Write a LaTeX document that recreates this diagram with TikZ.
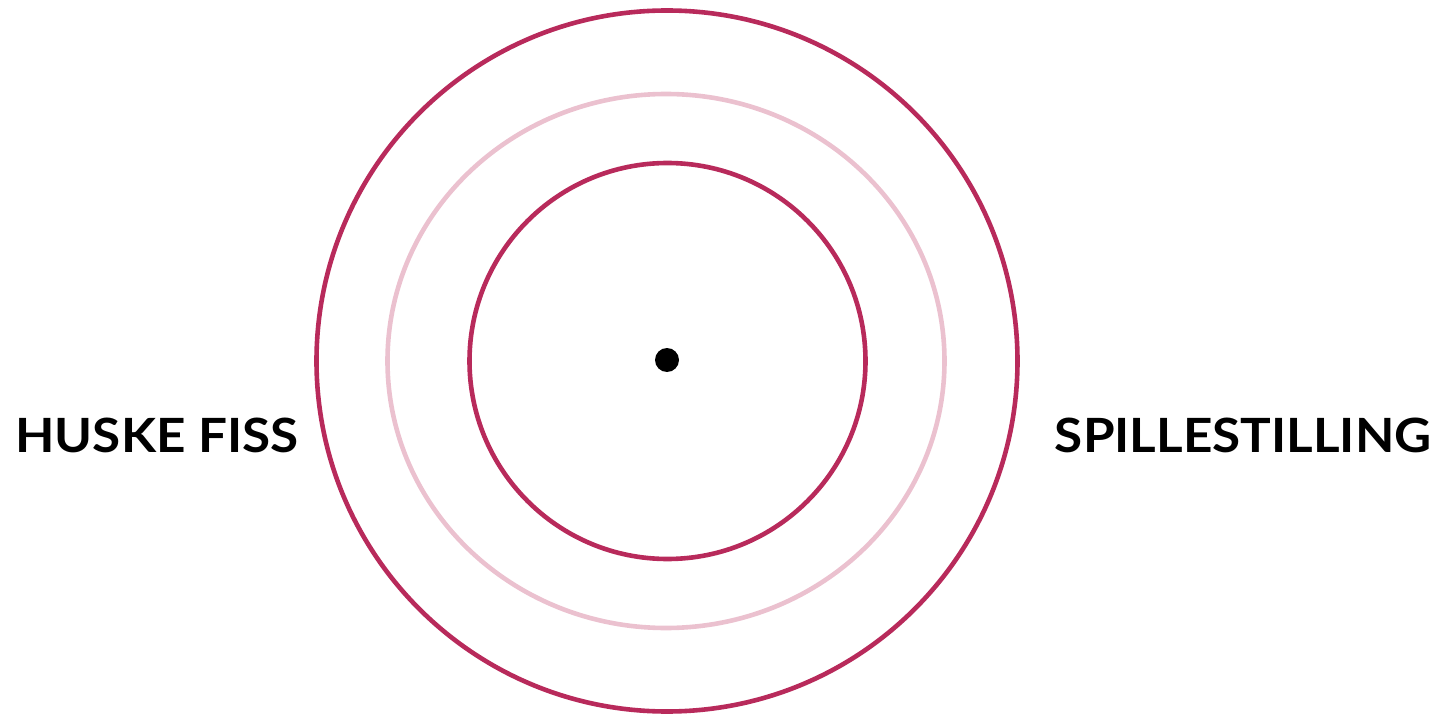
\documentclass[tikz,border=0pt]{standalone}
\usepackage{fontspec}
\setmainfont{Lato}
\newfontfamily\labelfont[FakeStretch=1.085]{Lato}
\usepackage{tikz}
\definecolor{ringred}{HTML}{B82A5B}
\definecolor{ringpink}{HTML}{EBC1CF}

\begin{document}
\begin{tikzpicture}[x=0.5pt, y=0.5pt]
  \useasboundingbox (0,0) rectangle (1448,714);
  % rings
  \draw[ringred,line width=2.3pt]  (667,353) circle (350.5);
  \draw[ringpink,line width=2.3pt] (666,353) ellipse (278.5 and 267);
  \draw[ringred,line width=2.3pt]  (667.5,353) circle (198);
  \fill[black] (667,354) circle (12);

  % labels
  \node[anchor=base west,inner sep=0pt,font=\labelfont\bfseries\fontsize{23.6}{28}\selectfont]
    (huske) at (15,262) {HUSKE FISS};
  \node[anchor=base east,inner sep=0pt,font=\labelfont\bfseries\fontsize{23.6}{28}\selectfont]
    (spill) at (1432,262) {SPILLESTILLING};
\end{tikzpicture}
\end{document}
